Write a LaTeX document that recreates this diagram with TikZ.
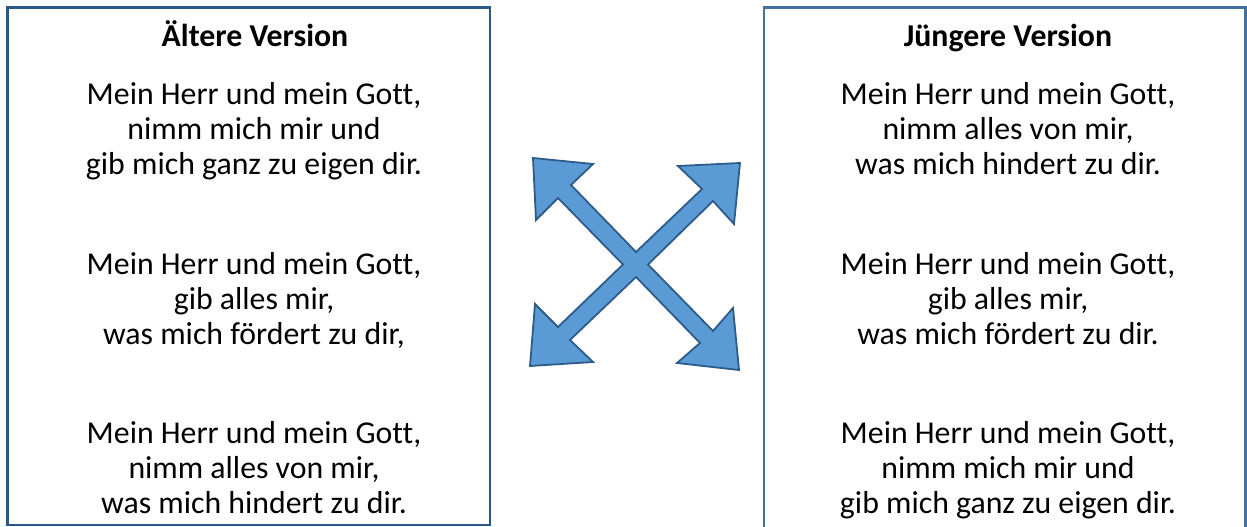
\documentclass[tikz,border=0pt]{standalone}
\usepackage{fontspec}
\setmainfont{Carlito}[Ligatures=NoCommon]
\definecolor{boxleft}{HTML}{2B5987}
\definecolor{boxright}{HTML}{41719C}
\definecolor{arrfill}{HTML}{5B9BD5}
\definecolor{arrline}{HTML}{2E5C8A}
\begin{document}
\begin{tikzpicture}[x=1pt,y=-1pt,
  frame/.style={line width=2.2pt},
  txt/.style={anchor=base,inner sep=0pt,font=\fontsize{31.8}{35.5}\selectfont},
  ttl/.style={txt,font=\fontsize{31.8}{35.5}\selectfont\bfseries},
  cross/.style={fill=arrfill,draw=arrline,line width=1.8pt,line join=miter}]
\useasboundingbox (0,0) rectangle (1247,527);
\clip (0,0) rectangle (1247,527);
% boxes
\draw[frame,draw=boxleft] (7.5,7.5) rectangle (490,525);
\draw[frame,draw=boxright] (764,7.5) rectangle (1245.5,540);
% left texts
\node[ttl] (lt) at (255,46.5) {Ältere Version};
\node[txt] (la1) at (254,104.5) {Mein Herr und mein Gott,};
\node[txt] (la2) at (254,139.5) {nimm mich mir und};
\node[txt] (la3) at (254,174.5) {gib mich ganz zu eigen dir.};
\node[txt] (lb1) at (254,274) {Mein Herr und mein Gott,};
\node[txt] (lb2) at (254,309) {gib alles mir,};
\node[txt] (lb3) at (254,344) {was mich fördert zu dir,};
\node[txt] (lc1) at (254,443) {Mein Herr und mein Gott,};
\node[txt] (lc2) at (254,478) {nimm alles von mir,};
\node[txt] (lc3) at (254,513) {was mich hindert zu dir.};
% right texts
\node[ttl] (rt) at (1008,46.5) {Jüngere Version};
\node[txt] (ra1) at (1008,104.5) {Mein Herr und mein Gott,};
\node[txt] (ra2) at (1008,139.5) {nimm alles von mir,};
\node[txt] (ra3) at (1008,174.5) {was mich hindert zu dir.};
\node[txt] (rb1) at (1008,274) {Mein Herr und mein Gott,};
\node[txt] (rb2) at (1008,309) {gib alles mir,};
\node[txt] (rb3) at (1008,344) {was mich fördert zu dir.};
\node[txt] (rc1) at (1008,443) {Mein Herr und mein Gott,};
\node[txt] (rc2) at (1008,478) {nimm mich mir und};
\node[txt] (rc3) at (1008,513) {gib mich ganz zu eigen dir.};
% four-way diagonal arrow
\draw[cross] (533,158) -- (593,164) -- (571,185) -- (636,252) -- (702,189)
  -- (678,166) -- (740,163) -- (734,224) -- (713,201) -- (648,264.5)
  -- (713,331) -- (733,308) -- (739,370) -- (677,363) -- (700,343)
  -- (636,277) -- (570,340) -- (593,362) -- (530,366) -- (535,304)
  -- (558,327) -- (623,264.5) -- (558,198) -- (536,220) -- cycle;
\end{tikzpicture}
\end{document}
